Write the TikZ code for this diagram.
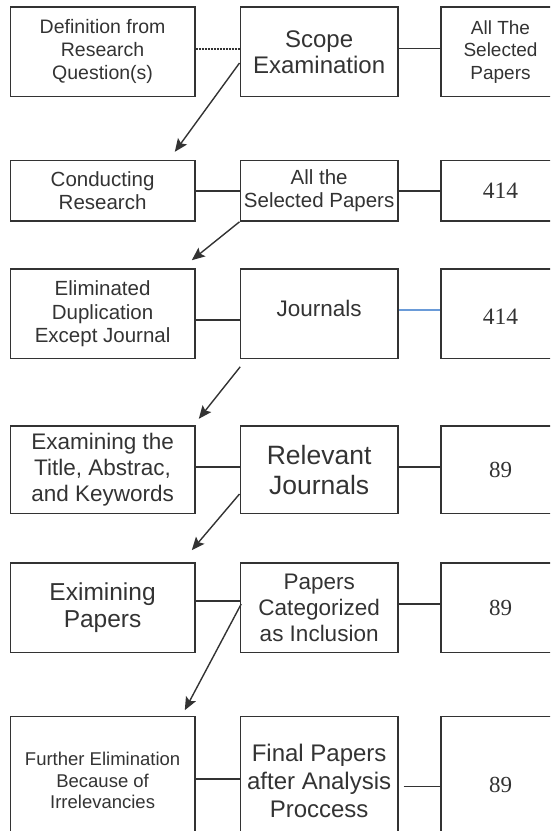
\documentclass[tikz,border=0pt]{standalone}
\usepackage{fontspec}
\setmainfont{Liberation Sans}
\newfontfamily\numfont{Liberation Serif}
\usetikzlibrary{arrows.meta}
\definecolor{ink}{HTML}{333333}
\definecolor{linkblue}{HTML}{6A9BD8}
\begin{document}
\begin{tikzpicture}[x=1pt,y=-1pt,
  box/.style={draw=ink, line width=1.6pt, text=ink, align=center, inner sep=0pt, anchor=center},
  lbox/.style={box, minimum width=184.2pt},
  mbox/.style={box, minimum width=157.7pt},
  rbox/.style={box, minimum width=119pt},
  link/.style={draw=ink, line width=1.6pt},
  dlink/.style={draw=ink, line width=1.5pt, dash pattern=on 2pt off 1pt},
  blink/.style={draw=linkblue, line width=1.2pt},
  flow/.style={draw=ink, line width=1.4pt, -{Stealth[length=13pt,width=11pt,inset=2.5pt]}},
  num/.style={font=\numfont\fontsize{23}{26}\selectfont}
]
\useasboundingbox (0,0) rectangle (550,831);
\clip (0,0) rectangle (550,831);
% row 1
\node[lbox, minimum height=89.5pt, font=\fontsize{19.5}{23}\selectfont] (l1) at (102.6,51.75) {Definition from\\Research\\Question(s)};
\node[mbox, minimum height=89.5pt, font=\fontsize{24}{26}\selectfont] (m1) at (319.15,51.75) {Scope\\Examination};
\node[rbox, minimum height=89.5pt, font=\fontsize{19}{22.5}\selectfont] (r1) at (500.5,51.75) {All The\\Selected\\Papers};
% row 2
\node[lbox, minimum height=60.4pt, font=\fontsize{20.5}{23.5}\selectfont] (l2) at (102.6,190.8) {Conducting\\Research};
\node[mbox, minimum height=60.4pt, font=\fontsize{20.5}{23.5}\selectfont] (m2) at (319.15,190.8) {All the\\Selected Papers};
\node[rbox, minimum height=60.4pt, font=\numfont\fontsize{23.5}{26}\selectfont] (r2) at (500.5,190.8) {414};
% row 3
\node[lbox, minimum height=89.6pt, font=\fontsize{20.5}{23.5}\selectfont] (l3) at (102.6,313.8) {Eliminated\\Duplication\\Except Journal};
\node[mbox, minimum height=89.6pt, font=\fontsize{22.5}{26}\selectfont] (m3) at (319.15,313.8) {\raisebox{5.8pt}[\height][\depth]{Journals}};
\node[rbox, minimum height=89.6pt, font=\numfont\fontsize{23.5}{26}\selectfont] (r3) at (500.5,313.8) {\raisebox{-2.7pt}[\height][\depth]{414}};
% row 4
\node[lbox, minimum height=87.6pt, font=\fontsize{22.5}{26}\selectfont] (l4) at (102.6,469.8) {Examining the\\Title, Abstrac,\\and Keywords};
\node[mbox, minimum height=87.6pt, font=\fontsize{26.5}{29.5}\selectfont] (m4) at (319.15,469.8) {Relevant\\Journals};
\node[rbox, minimum height=87.6pt, num] (r4) at (500.5,469.8) {89};
% row 5
\node[lbox, minimum height=89.6pt, font=\fontsize{24.5}{27.5}\selectfont] (l5) at (102.6,607.8) {Eximining\\Papers};
\node[mbox, minimum height=89.6pt, font=\fontsize{22.5}{26}\selectfont] (m5) at (319.15,607.8) {Papers\\Categorized\\as Inclusion};
\node[rbox, minimum height=89.6pt, num] (r5) at (500.5,607.8) {89};
% row 6
\node[lbox, minimum height=128.6pt, font=\fontsize{18.5}{21.5}\selectfont] (l6) at (102.6,780.7) {Further Elimination\\Because of\\Irrelevancies};
\node[mbox, minimum height=128.6pt, font=\fontsize{24}{28}\selectfont] (m6) at (319.15,780.7) {Final Papers\\after Analysis\\Proccess};
\node[rbox, minimum height=128.6pt, num] (r6) at (500.5,780.7) {\raisebox{-4pt}[\height][\depth]{89}};
% horizontal links
\draw[dlink] ([yshift=2.75pt]l1.east) -- ([yshift=2.75pt]m1.west);
\draw[link] ([yshift=3.3pt]m1.east) -- ([yshift=3.3pt]r1.west);
\draw[link] (l2.east) -- (m2.west);
\draw[link] (m2.east) -- (r2.west);
\draw[link] ([yshift=-6.2pt]l3.east) -- ([yshift=-6.2pt]m3.west);
\draw[blink] ([yshift=3.8pt]m3.east) -- ([yshift=3.8pt]r3.west);
\draw[link] ([yshift=2.8pt]l4.east) -- ([yshift=2.8pt]m4.west);
\draw[link] ([yshift=2.8pt]m4.east) -- ([yshift=2.8pt]r4.west);
\draw[link] ([yshift=6.8pt]l5.east) -- ([yshift=6.8pt]m5.west);
\draw[link] ([yshift=3.8pt]m5.east) -- ([yshift=3.8pt]r5.west);
\draw[link] ([yshift=1.7pt]l6.east) -- ([yshift=1.7pt]m6.west);
\draw[link] ([xshift=4.7pt,yshift=-5.9pt]m6.east) -- ([yshift=-5.9pt]r6.west);
% flow arrows
\draw[flow] ([yshift=-11.25pt]m1.west) -- ([xshift=-20.7pt,yshift=8pt]l2.north east);
\draw[flow] (m2.south west) -- ([xshift=-3.7pt,yshift=8pt]l3.north east);
\draw[flow] ([xshift=0.7pt,yshift=-7.4pt]m3.south west) -- ([xshift=3.3pt,yshift=6.4pt]l4.north east);
\draw[flow] ([yshift=-24.2pt]m4.west) -- ([xshift=-3.7pt,yshift=12pt]l5.north east);
\draw[flow] ([xshift=1.7pt,yshift=3.8pt]m5.west) -- ([xshift=-10.7pt,yshift=5.4pt]l6.north east);
\end{tikzpicture}
\end{document}
